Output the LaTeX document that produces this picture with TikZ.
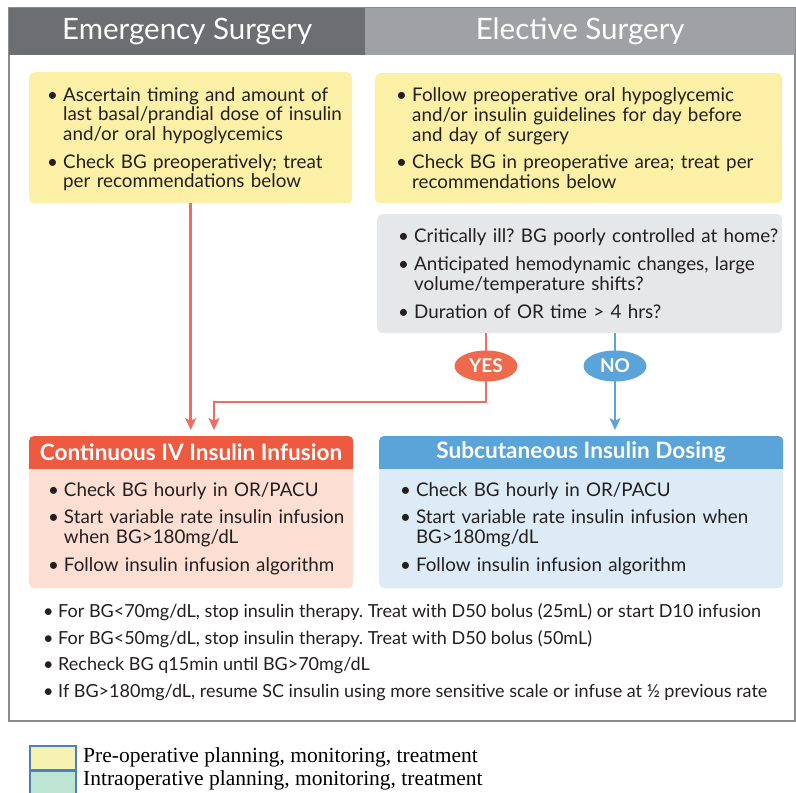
\documentclass[tikz,border=0pt]{standalone}
\usepackage{fontspec}
\setmainfont{Lato}
\newfontfamily\legendfont{Liberation Serif}
\usetikzlibrary{arrows.meta,calc,shapes.geometric}
\definecolor{hdrdark}{HTML}{6D6E71}
\definecolor{hdrlight}{HTML}{A0A1A4}
\definecolor{framegray}{HTML}{8C8C8C}
\definecolor{yfill}{HTML}{FCEFA6}
\definecolor{gfill}{HTML}{E6E7E8}
\definecolor{ivred}{HTML}{EE5A40}
\definecolor{ivbody}{HTML}{FDDED2}
\definecolor{ivline}{HTML}{F06B60}
\definecolor{yesfill}{HTML}{EF6A4C}
\definecolor{scblue}{HTML}{5BA4DA}
\definecolor{scbody}{HTML}{DDEBF7}
\definecolor{txt}{HTML}{231F20}
\definecolor{legyellow}{HTML}{F6F2B1}
\definecolor{legteal}{HTML}{BEE4D4}
\definecolor{legblue}{HTML}{4A80C2}
\newcommand{\bitem}[1]{\par\noindent\makebox[16pt][l]{\textbullet}\begin{tabular}[t]{@{}l@{}}#1\end{tabular}\par}
\newcommand{\bsep}{\vspace{7pt}}
\tikzset{
  hdr/.style={text=white, font=\fontsize{29.5}{32}\selectfont, inner sep=0pt, anchor=north west},
  textbox/.style={rounded corners=5pt, align=left, text=txt, inner xsep=0pt, inner ysep=0pt,
    font=\fontsize{18.8}{19.5}\selectfont, anchor=north west},
  boxhead/.style={text=white, font=\bfseries\fontsize{22.6}{26}\selectfont},
  bodytext/.style={align=left, text=txt, inner sep=0pt, font=\fontsize{18.8}{19.5}\selectfont},
  note/.style={anchor=base west, text=txt, inner sep=0pt, font=\fontsize{18}{20}\selectfont},
  legtext/.style={anchor=base west, inner sep=0pt, font=\legendfont\fontsize{21.5}{23}\selectfont},
  redline/.style={draw=ivline, line width=2.6pt},
  blueline/.style={draw=scblue, line width=2.6pt},
  tip/.style={-{Stealth[length=12pt,width=11pt,inset=3pt]}, shorten >=6pt},
  choice/.style={ellipse, minimum width=63pt, minimum height=31pt, inner sep=0pt, text=white,
    font=\bfseries\fontsize{19}{22}\selectfont},
}
\AtBeginDocument{\frenchspacing}
\begin{document}
\begin{tikzpicture}[x=1pt,y=-1pt]
\useasboundingbox (0,0) rectangle (796,793);
\fill[white] (0,0) rectangle (796,793);

% outer frame and headers
\draw[framegray, line width=1.5pt] (9,8) rectangle (795,721);
\node[hdr, fill=hdrdark, minimum width=356pt, minimum height=47pt] (emh) at (9,8) {Emergency Surgery};
\node[hdr, fill=hdrlight, minimum width=430pt, minimum height=47pt] (elh) at (365,8) {Elective Surgery};

% yellow boxes
\node[textbox, fill=yfill, minimum width=323pt, minimum height=131pt, text width=287pt] (eb1) at (29,72) {%
\bitem{Ascertain timing and amount of\\last basal/prandial dose of insulin\\and/or oral hypoglycemics}\bsep
\bitem{Check BG preoperatively; treat\\per recommendations below}};
\node[textbox, fill=yfill, minimum width=407pt, minimum height=130pt, text width=365pt] (el1) at (375,73) {%
\bitem{Follow preoperative oral hypoglycemic\\and/or insulin guidelines for day before\\and day of surgery}\bsep
\bitem{Check BG in preoperative area; treat per\\recommendations below}};

% gray question box
\node[textbox, fill=gfill, minimum width=405pt, minimum height=119pt, text width=363pt] (gb) at (377,214) {%
\bitem{Critically ill? BG poorly controlled at home?}\bsep
\bitem{Anticipated hemodynamic changes, large\\volume/temperature shifts?}\bsep
\bitem{Duration of OR time > 4 hrs?}};

% result boxes
\node[anchor=north west, minimum width=324pt, minimum height=152pt, fill=ivbody, rounded corners=5pt, inner sep=0pt] (ivbox) at (29,436) {};
\begin{scope}
\clip (29,436) rectangle (353,468);
\fill[ivred, rounded corners=5pt] (ivbox.north west) rectangle (ivbox.south east);
\end{scope}
\node[boxhead] (ivhead) at (191,452) {Continuous IV Insulin Infusion};
\node[bodytext, text width=286pt] (ivtext) at (191,527) {%
\bitem{Check BG hourly in OR/PACU}\bsep
\bitem{Start variable rate insulin infusion\\when BG>180mg/dL}\bsep
\bitem{Follow insulin infusion algorithm}};

\node[anchor=north west, minimum width=404pt, minimum height=152pt, fill=scbody, rounded corners=5pt, inner sep=0pt] (scbox) at (379,436) {};
\begin{scope}
\clip (379,436) rectangle (783,468);
\fill[scblue, rounded corners=5pt] (scbox.north west) rectangle (scbox.south east);
\end{scope}
\node[boxhead] (schead) at (581,452) {Subcutaneous Insulin Dosing};
\node[bodytext, text width=362pt] (sctext) at (581,527) {%
\bitem{Check BG hourly in OR/PACU}\bsep
\bitem{Start variable rate insulin infusion when\\BG>180mg/dL}\bsep
\bitem{Follow insulin infusion algorithm}};

% decision points
\coordinate (yespt) at (486,366);
\coordinate (nopt) at (615,366);
\coordinate (yc) at (214,402);

% connectors
\draw[redline, tip] (eb1.south) -- (eb1.south |- ivbox.north);
\draw[redline] (gb.south -| yespt) -- (yespt);
\draw[redline, tip] (yespt) -- (yespt |- yc) -- (yc) -- (yc |- ivbox.north);
\draw[blueline] (gb.south -| nopt) -- (nopt);
\draw[blueline, tip] (nopt) -- (nopt |- scbox.north);
\node[choice, fill=yesfill] (yes) at (yespt) {YES};
\node[choice, fill=scblue] (no) at (nopt) {NO};

% bottom notes
\node[note] (n1) at (43,617) {\textbullet\ For BG<70mg/dL, stop insulin therapy. Treat with D50 bolus (25mL) or start D10 infusion};
\node[note] (n2) at (43,644) {\textbullet\ For BG<50mg/dL, stop insulin therapy. Treat with D50 bolus (50mL)};
\node[note] (n3) at (43,670) {\textbullet\ Recheck BG q15min until BG>70mg/dL};
\node[note] (n4) at (43,697) {\textbullet\ If BG>180mg/dL, resume SC insulin using more sensitive scale or infuse at ½ previous rate};

% legend
\node[anchor=north west, minimum width=46pt, minimum height=23.5pt, fill=legyellow, draw=legblue, line width=1.5pt, inner sep=0pt] (ly) at (29,745) {};
\node[anchor=north, minimum width=46pt, minimum height=23.5pt, fill=legteal, draw=legblue, line width=1.5pt, inner sep=0pt] (lt) at (ly.south) {};
\node[legtext] (lyt) at (83,762) {Pre-operative planning, monitoring, treatment};
\node[legtext] (ltt) at (83,785) {Intraoperative planning, monitoring, treatment};
\end{tikzpicture}
\end{document}
